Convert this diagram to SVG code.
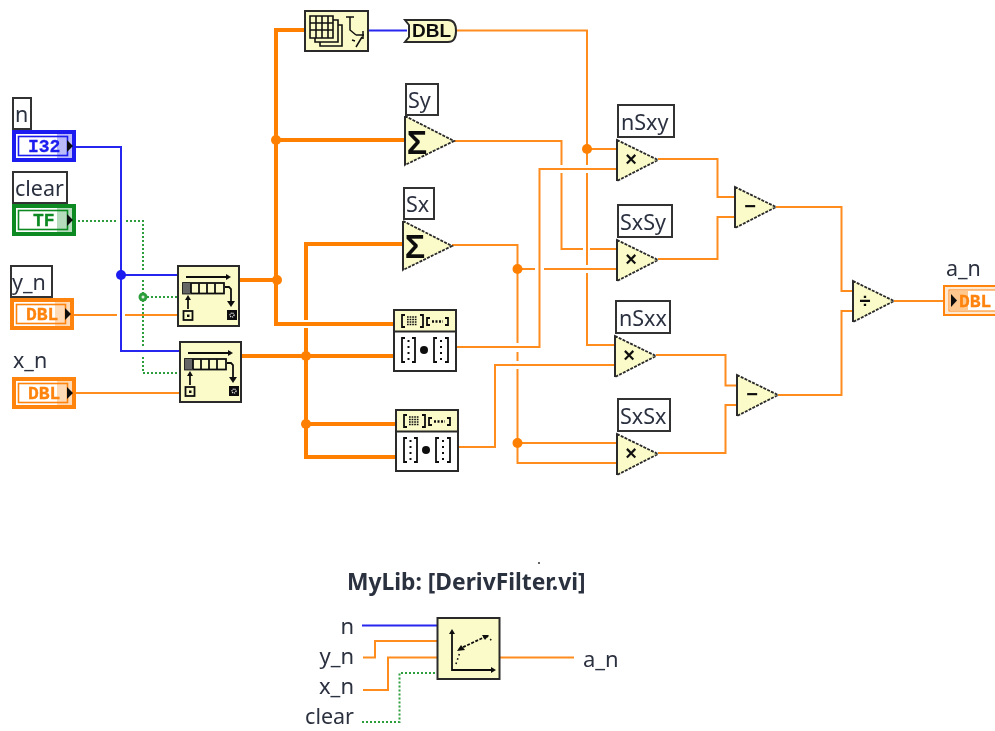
<svg xmlns="http://www.w3.org/2000/svg" xmlns:xlink="http://www.w3.org/1999/xlink" width="995" height="731" viewBox="0 0 995 731">
<style>
.w{fill:none;stroke:#ff8c1e;stroke-width:2}
.t{fill:none;stroke:#ff8000;stroke-width:4}
.b{fill:none;stroke:#2626f0;stroke-width:2}
.g{fill:none;stroke:#2f9e3e;stroke-width:2;stroke-dasharray:2 2}
.lb{fill:#fff;stroke:#333;stroke-width:2}
.tx{font-family:"Noto Sans","Open Sans",sans-serif;font-size:21.500px;fill:#2c3040}
.lg{font-size:22px}
.tt{font-family:"Liberation Mono","DejaVu Sans Mono",monospace;font-weight:700;font-size:18px;stroke-width:.3px}
.o{color:#ff8410}.bl{color:#1c1cf0}.gr{color:#0f8a24}
.ic{fill:#fbfbc9;stroke:#2a2a2a;stroke-width:2}
.k{fill:none;stroke:#111;stroke-width:1.800}
.sym{font-family:"Liberation Sans",sans-serif;font-weight:700;fill:#111;text-anchor:middle}
</style>
<defs>
<filter id="soft" x="0" y="0" width="100%" height="100%"><feGaussianBlur stdDeviation="0.5"/></filter>
<g id="term"><rect x="2" y="2" width="60" height="28" fill="#fff" stroke="currentColor" stroke-width="4"/><rect x="6.500" y="6.500" width="49" height="19" fill="#fff" stroke="currentColor" stroke-width="1.600"/></g>
<g id="tshade"><rect x="45" y="3" width="16" height="26" fill="currentColor" opacity=".3"/><path d="M55 10l6 6-6 6z" fill="#111"/></g>
<g id="sr"><rect x="1" y="1" width="61" height="60" class="ic"/>
<path d="M9 12H50" class="k"/><path d="M49 9l5 3-5 3z" fill="#111"/>
<rect x="6" y="18" width="41" height="10.500" fill="#fbfbc9" stroke="#111" stroke-width="1.800"/><rect x="6" y="18" width="8" height="10.500" fill="#666"/>
<path d="M14 18v10M22 18v10M30 18v10M38 18v10" class="k"/>
<path d="M11 32V44" class="k"/><path d="M8 35l3-5 3 5z" fill="#111"/>
<rect x="6.500" y="46" width="9" height="9" fill="#fbfbc9" stroke="#111" stroke-width="1.800"/><rect x="10" y="49.500" width="2.500" height="2.500" fill="#111"/>
<path d="M48 22h4l2 2V38" class="k"/><path d="M50 36h8l-4 6z" fill="#111"/>
<rect x="50" y="45" width="10" height="10" fill="#111"/><circle cx="55" cy="50" r="2" fill="none" stroke="#fff" stroke-width="1.200" stroke-dasharray="1 .8"/></g>
<g id="tri"><polygon points="0,0 49,25 0,49" fill="#fbfbc9" stroke="#2a2a2a" stroke-width="1.800" stroke-dasharray="3 1.200"/><path d="M0 0V49" stroke="#2a2a2a" stroke-width="2"/></g>
<g id="tri2"><polygon points="0,0 41,20 0,41" fill="#fbfbc9" stroke="#2a2a2a" stroke-width="1.800" stroke-dasharray="3 1.200"/><path d="M0 0V41" stroke="#2a2a2a" stroke-width="2"/></g>
<g id="dot"><rect x="1" y="1" width="62" height="61" fill="#fff" stroke="#2a2a2a" stroke-width="2"/><rect x="2" y="2" width="60" height="20" fill="#fbfbc9"/><path d="M1 22.500H63" stroke="#2a2a2a" stroke-width="2"/>
<path d="M12 6H9V18H12M27 6H30V18H27M37 9H34V16H37M52 9H55V16H52" class="k"/>
<path d="M14 8h10M14 10.500h10M14 13h10M14 15.500h10" stroke="#111" stroke-width="1.700" stroke-dasharray="1.700 .9" fill="none"/>
<path d="M39 12.500H50" stroke="#111" stroke-width="2.400" stroke-dasharray="2 1.500"/>
<path d="M12 29H9V53H12M19 29H22V53H19M44 29H41V53H44M52 29H55V53H52" class="k"/>
<path d="M15.500 31V51M48 31V51" stroke="#111" stroke-width="2" stroke-dasharray="2 4"/><circle cx="31" cy="41" r="4" fill="#111"/></g>
</defs>
<g filter="url(#soft)">
<rect width="995" height="731" fill="#fff"/>
<g id="connectors">
<path class="b" d="M76 147H121V351H179M121 275H177M368 30.500H407"/>
<circle cx="121" cy="275" r="5" fill="#1c1cf0"/>
<path class="g" d="M78 221H117M126 221H143V270M143 280V346M143 357V373H179M143 297H177"/>
<circle cx="143" cy="297" r="4.500" fill="#2f9e3e"/><circle cx="143" cy="297" r="1.500" fill="#dff0df"/>
<path class="w" d="M74 315H117M125 315H177M76 393H179"/>
<path class="t" d="M240 280H276M305 30H276V324H393M276 140H405M403 244H306V320M306 328V457H395M242 356H393M306 424H395"/>
<g fill="#ff8000"><circle cx="277" cy="280" r="5"/><circle cx="276" cy="140" r="5"/><circle cx="306" cy="356" r="5"/><circle cx="306" cy="424" r="5"/></g>
<path class="w" d="M456 30.500H587V165M587 173V265M587 273V345H615M587 149H617M454 141H561.500V165M561.500 173V249H583M590 249H617"/>
<path class="w" d="M452 245H517.500V343M517.500 352V361M517.500 369V463H617M517.500 269H535M544 269H617M517.500 443H617"/>
<path class="w" d="M456 347H539.500V169H617M458 447H495V365H615"/>
<path class="w" d="M658 159H717.500V197H735M658 259H717.500V217H735M656 355H725.500V385.500H737M658 453H725.500V405H737M776 207H841.500V291H853M778 395H841.500V311H853M894 301H943"/>
<g fill="#ff8000"><circle cx="587" cy="149" r="5"/><circle cx="517.500" cy="269" r="5"/><circle cx="517.500" cy="443" r="5"/></g>
<path class="b" d="M362 625.500H437"/>
<path class="w" d="M363 657.500H375V641H437M363 690H388V657.500H437M499 657.500H574"/>
<path class="g" d="M362 722H399.500V673H437"/>
</g>
<g id="node-n"><rect class="lb" x="13" y="98" width="18" height="31"/><text class="tx" x="15" y="122">n</text><use href="#term" x="12" y="130" class="bl"/><text class="tt" x="28" y="152" fill="#1c1cf0" stroke="#1c1cf0">I32</text><use href="#tshade" x="12" y="130" class="bl"/></g>
<g id="node-clear"><rect class="lb" x="13" y="172" width="54" height="31"/><text class="tx" x="15" y="196">clear</text><use href="#term" x="12" y="204" class="gr"/><text class="tt" x="33" y="226" fill="#0f8a24" stroke="#0f8a24">TF</text><use href="#tshade" x="12" y="204" class="gr"/></g>
<g id="node-y_n"><rect class="lb" x="11" y="266" width="41" height="31"/><text class="tx" x="12" y="290">y_n</text><use href="#term" x="10" y="298" class="o"/><text class="tt" x="26" y="320" fill="#ff8410" stroke="#ff8410">DBL</text><use href="#tshade" x="10" y="298" class="o"/></g>
<g id="node-x_n"><text class="tx" x="13" y="368">x_n</text><use href="#term" x="12" y="377" class="o"/><text class="tt" x="28" y="398.500" fill="#ff8410" stroke="#ff8410">DBL</text><use href="#tshade" x="12" y="377" class="o"/></g>
<g id="node-buffer1"><use href="#sr" x="177" y="265"/></g>
<g id="node-buffer2"><use href="#sr" x="179" y="341"/></g>
<g id="node-matrix"><rect x="305" y="11" width="63" height="40" class="ic"/>
<path d="M310 16h23v22h-23zM316 16v22M322 16v22M328 16v22M310 23h23M310 30h23M333 20h5v22h-23v-4M338 25h4v21h-22v-4" fill="none" stroke="#111" stroke-width="1.600"/>
<path d="M346 17h8M350 17V30l6 5M356 35h8M363 31v8M352 40l3 1M362 37l-6 10" fill="none" stroke="#111" stroke-width="1.500"/></g>
<g id="node-dbl"><path d="M405 20H448Q456 20 456 31Q456 42 448 42H405L409 37V25Z" fill="#fbfbc9" stroke="#2a2a2a" stroke-width="2"/><text x="412" y="37" font-family="Liberation Sans,sans-serif" font-weight="700" font-size="19" fill="#111">DBL</text></g>
<g id="node-Sy"><rect class="lb" x="406" y="84" width="32" height="31"/><text class="tx" x="408" y="108">Sy</text><use href="#tri" x="405" y="116"/><text class="sym" x="417" y="154" font-size="34">Σ</text></g>
<g id="node-Sx"><rect class="lb" x="404" y="188" width="30" height="31"/><text class="tx" x="406" y="212">Sx</text><use href="#tri" x="403" y="221"/><text class="sym" x="415" y="258" font-size="34">Σ</text></g>
<g id="node-dot1"><use href="#dot" x="393" y="309"/></g>
<g id="node-dot2"><use href="#dot" x="395" y="409"/></g>
<g id="node-nSxy"><rect class="lb" x="618" y="105" width="56" height="32"/><text class="tx" x="621" y="130">nSxy</text><use href="#tri2" x="617" y="140"/><text class="sym" x="631" y="166" font-size="20">×</text></g>
<g id="node-SxSy"><rect class="lb" x="618" y="205" width="54" height="32"/><text class="tx" x="620" y="230">SxSy</text><use href="#tri2" x="617" y="240"/><text class="sym" x="631" y="266" font-size="20">×</text></g>
<g id="node-nSxx"><rect class="lb" x="616" y="301" width="54" height="32"/><text class="tx" x="619" y="326">nSxx</text><use href="#tri2" x="615" y="336"/><text class="sym" x="629" y="362" font-size="20">×</text></g>
<g id="node-SxSx"><rect class="lb" x="618" y="399" width="52" height="32"/><text class="tx" x="620" y="424">SxSx</text><use href="#tri2" x="617" y="434"/><text class="sym" x="631" y="460" font-size="20">×</text></g>
<g id="node-sub1"><use href="#tri2" x="735" y="187"/><text class="sym" x="750" y="213" font-size="20">−</text></g>
<g id="node-sub2"><use href="#tri2" x="737" y="375"/><text class="sym" x="752" y="401" font-size="20">−</text></g>
<g id="node-div"><use href="#tri2" x="853" y="281"/><text class="sym" x="865" y="308" font-size="20">÷</text></g>
<g id="node-a_n"><text class="tx" x="946" y="276">a_n</text><rect x="944" y="286" width="60" height="29" fill="#ffe9d2" stroke="#ff8410" stroke-width="2"/><rect x="949" y="290" width="60" height="21" fill="#fff" stroke="#ff8410" stroke-width="1"/><rect x="950" y="291" width="18" height="19" fill="#ffb060" opacity=".7"/><path d="M951 294l6 6.500-6 6.500z" fill="#111"/><text class="tt" x="959" y="306.500" fill="#ff8410" stroke="#ff8410" font-size="17">DBL</text></g>
<g id="legend"><circle cx="539" cy="563" r="1" fill="#333"/><text x="347" y="590" font-family="Noto Sans,sans-serif" font-weight="700" font-size="22.800" fill="#2c3040">MyLib: [DerivFilter.vi]</text>
<text class="tx lg" x="354" y="634" text-anchor="end">n</text><text class="tx lg" x="354" y="664" text-anchor="end">y_n</text><text class="tx lg" x="354" y="694" text-anchor="end">x_n</text><text class="tx" x="354" y="724" text-anchor="end">clear</text><text class="tx lg" x="583" y="667">a_n</text>
<g id="node-DerivFilter"><rect x="437.500" y="618" width="62" height="61" class="ic"/>
<path d="M452 632V670H493" class="k"/><path d="M449 634l3-5 3 5zM491 667l5 3-5 3z" fill="#111"/>
<path d="M459 649L487 636" fill="none" stroke="#111" stroke-width="1.800" stroke-dasharray="3 1.500"/><path d="M457 651l8-1-4-5zM489 635l-7 0 3 5z" fill="#111"/><path d="M456 664l4-12M487 636l6 6" fill="none" stroke="#111" stroke-width="1.600" stroke-dasharray="1.500 3"/></g></g>
</g>
</svg>
